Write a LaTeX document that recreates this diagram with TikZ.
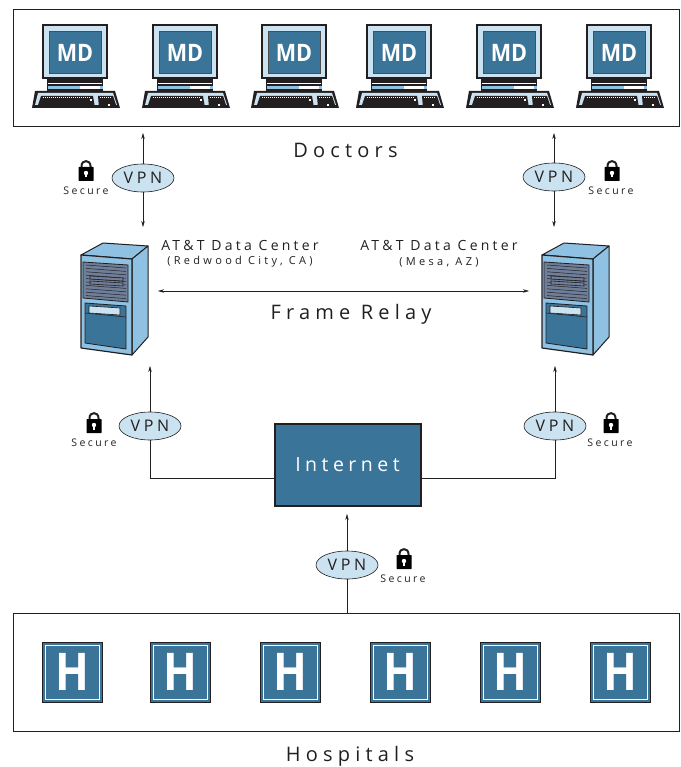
\documentclass[tikz,border=0pt]{standalone}
\usepackage{fontspec}
\setmainfont{Open Sans}
\newfontfamily\spaced[LetterSpace=23]{Open Sans}
\newfontfamily\wide[LetterSpace=26]{Open Sans}
\newfontfamily\widest[LetterSpace=30]{Open Sans}
\usetikzlibrary{shapes.geometric,arrows.meta}

\definecolor{mdblue}{HTML}{3A7499}
\definecolor{midblue}{HTML}{8FC2E2}
\definecolor{paleblue}{HTML}{CBE2F0}
\definecolor{slate}{HTML}{6F7F99}
\definecolor{ink}{HTML}{231F20}

\tikzset{
    frame/.style={draw=ink, line width=0.6pt, fill=white},
    link/.style={draw=ink, line width=0.5pt, -{Stealth[length=6pt,width=3.5pt]}},
    bothlink/.style={link, {Stealth[length=6pt,width=3.5pt]}-{Stealth[length=6pt,width=3.5pt]}},
    vpn/.style={ellipse, draw=ink, line width=0.6pt, fill=paleblue, minimum width=62pt, minimum height=28pt, inner sep=0pt, font=\fontsize{16}{16}\selectfont\spaced, text=ink},
    title/.style={font=\fontsize{20}{20}\selectfont\wide, text=ink},
    site/.style={font=\fontsize{14}{14}\selectfont\spaced, text=ink},
    town/.style={font=\fontsize{11}{11}\selectfont\widest, text=ink},
    secure/.style={font=\fontsize{10.5}{11}\selectfont\spaced, text=ink},
    hospital/.style={draw=ink, line width=1pt, fill=mdblue, minimum size=60pt, inner sep=0pt,
        path picture={\draw[white, line width=0.8pt] ([shift={(3pt,3pt)}]path picture bounding box.south west) rectangle ([shift={(-3pt,-3pt)}]path picture bounding box.north east);}},
    hletter/.style={xscale=0.85, text=white, font=\fontsize{52}{52}\selectfont\bfseries},
    computer/.pic={
        % monitor
        \draw[fill=paleblue, draw=ink, line width=1.5pt] (-32,0) rectangle (32,53);
        \draw[fill=mdblue, draw=ink!80, line width=1pt] (-26,7) rectangle (26,49);
        \node[xscale=0.9, text=white, font=\fontsize{24}{24}\selectfont\bfseries] (-label) at (0,28) {MD};
        % base
        \fill[ink] (-28,53) rectangle (28,67);
        \draw[white, line width=0.6pt] (-27,58) -- (27,58);
        \fill[midblue] (-27,61) rectangle (5,64);
        \fill[white] (5,61) rectangle (25,64);
        \fill[midblue] (25,61) rectangle (28,64);
        % keyboard
        \fill[ink] (-40,66) -- (40,66) -- (45,83) -- (-43,83) -- cycle;
        \fill[paleblue] (-37,68) -- (38,68) -- (42,80) -- (-40,80) -- cycle;
        \fill[ink] (-34,71) -- (18,71) -- (20,83) -- (-38,83) -- cycle;
        \fill[ink] (23,71) -- (38,71) -- (42,83) -- (24,83) -- cycle;
        \draw[white, line width=0.5pt, dash pattern=on 1pt off 1pt] (-32,72.5) -- (16,72.5);
        \draw[white, line width=0.5pt, dash pattern=on 1pt off 1pt] (25,72.5) -- (36,72.5);
        \fill[white] (15,74) rectangle (17,76);
        \fill[white] (33,79) rectangle (35,81);
    },
    server/.pic={
        % sides
        \draw[fill=midblue, draw=ink, line width=1pt, line join=round] (0,0) -- (22,-12) -- (67,-9) -- (51,4) -- cycle;
        \draw[fill=midblue, draw=ink, line width=1pt, line join=round] (51,4) -- (67,-9) -- (67,82) -- (51,100) -- cycle;
        \draw[fill=midblue, draw=ink, line width=1.2pt, line join=round] (0,0) -- (51,4) -- (51,100) -- (0,93) -- cycle;
        % grille
        \draw[fill=slate, draw=ink, line width=0.8pt] (2,7) -- (47,10) -- (47,47) -- (2,43) -- cycle;
        \foreach \s in {10,13.4,...,41} {
            \draw[ink, line width=0.5pt] (5,\s) -- (45,\s+3);
        }
        \draw[fill=slate, draw=ink, line width=0.6pt] (9,21) -- (42,23) -- (42,26) -- (9,24) -- cycle;
        \draw[fill=slate, draw=ink, line width=0.6pt] (9,26) -- (42,28) -- (42,31) -- (9,29) -- cycle;
        % drives
        \draw[fill=mdblue, draw=ink, line width=0.8pt] (4,48) -- (45,51) -- (45,94) -- (4,88) -- cycle;
        \draw[ink, line width=0.6pt] (4,58) -- (45,62);
        \draw[fill=paleblue, draw=ink, line width=0.6pt] (8,51) -- (39,53) -- (39,60) -- (8,58) -- cycle;
    },
    padlock/.pic={
        \draw[ink, line width=2pt] (-4.5,-6) -- (-4.5,-8) .. controls (-4.5,-14.5) and (4.5,-14.5) .. (4.5,-8) -- (4.5,-6);
        \fill[black, rounded corners=0.5pt] (-7.5,-7) rectangle (7.5,7);
        \fill[white] (0,-1) circle (2.2);
        \fill[white] (-1,-1) rectangle (1,3.5);
    },
}

\begin{document}
\begin{tikzpicture}[x=1pt, y=-1pt]
    \useasboundingbox (0,0) rectangle (680,767);

    % the two groups
    \draw[frame] (13,9) rectangle (679,126);
    \draw[frame] (13,613) rectangle (679,731);
    \coordinate (doctorsL) at (143,133);
    \coordinate (doctorsR) at (554,133);
    \coordinate (hospitalsT) at (347,613);
    \coordinate (serverLT) at (143,227);
    \coordinate (serverRT) at (554,227);
    \coordinate (serverLB) at (150,366);
    \coordinate (serverRB) at (555,366);
    \coordinate (relayL) at (158,291);
    \coordinate (relayR) at (529,291);
    \coordinate (bendL) at (150,478);
    \coordinate (bendR) at (555,478);

    \pic (md1) at (75,25) {computer};
    \pic (md2) at (185,25) {computer};
    \pic (md3) at (294,25) {computer};
    \pic (md4) at (399,25) {computer};
    \pic (md5) at (509,25) {computer};
    \pic (md6) at (619,25) {computer};

    \node[hospital] (h1) at (72,672) {};
    \node[hospital] (h2) at (180,672) {};
    \node[hospital] (h3) at (290,672) {};
    \node[hospital] (h4) at (400,672) {};
    \node[hospital] (h5) at (510,672) {};
    \node[hospital] (h6) at (620,672) {};
    \node[hletter] (hl1) at (h1) {H};
    \node[hletter] (hl2) at (h2) {H};
    \node[hletter] (hl3) at (h3) {H};
    \node[hletter] (hl4) at (h4) {H};
    \node[hletter] (hl5) at (h5) {H};
    \node[hletter] (hl6) at (h6) {H};

    \pic (redwood) at (81,255) {server};
    \pic (mesa) at (542,255) {server};

    \node[draw=ink, line width=2pt, fill=mdblue, minimum width=146pt, minimum height=82pt, text=white, font=\fontsize{19.5}{20}\selectfont\spaced] (internet) at (347.5,465) {Internet};

    % connectors
    \draw[bothlink] (doctorsL) -- (serverLT);
    \draw[bothlink] (doctorsR) -- (serverRT);
    \draw[bothlink] (relayL) -- (relayR);
    \draw[link] (internet.west |- bendL) -- (bendL) -- (serverLB);
    \draw[link] (internet.east |- bendR) -- (bendR) -- (serverRB);
    \draw[link, shorten >=7pt] (hospitalsT) -- (hospitalsT |- internet.south);

    \node[vpn] (vpn1) at (143,178) {VPN};
    \node[vpn] (vpn2) at (554,177) {VPN};
    \node[vpn] (vpn3) at (150,426) {VPN};
    \node[vpn] (vpn4) at (555,426) {VPN};
    \node[vpn] (vpn5) at (347,565) {VPN};

    \pic (lock1) at (86,174) {padlock};
    \pic (lock2) at (612,174) {padlock};
    \pic (lock3) at (94,426) {padlock};
    \pic (lock4) at (611,426) {padlock};
    \pic (lock5) at (404,562) {padlock};
    \node[secure] (secure1) at (86,191) {Secure};
    \node[secure] (secure2) at (611,191) {Secure};
    \node[secure] (secure3) at (94,443) {Secure};
    \node[secure] (secure4) at (610,443) {Secure};
    \node[secure] (secure5) at (403,579) {Secure};

    \node[title] (doctors) at (345.5,150) {Doctors};
    \node[title] (relay) at (351,314.5) {Frame Relay};
    \node[title] (hospitals) at (350,756) {Hospitals};
    \node[site] (siteL) at (240,245) {AT\&T Data Center};
    \node[town] (townL) at (240,262) {(Redwood City, CA)};
    \node[site] (siteR) at (439,245) {AT\&T Data Center};
    \node[town] (townR) at (439,262) {(Mesa, AZ)};
\end{tikzpicture}
\end{document}
